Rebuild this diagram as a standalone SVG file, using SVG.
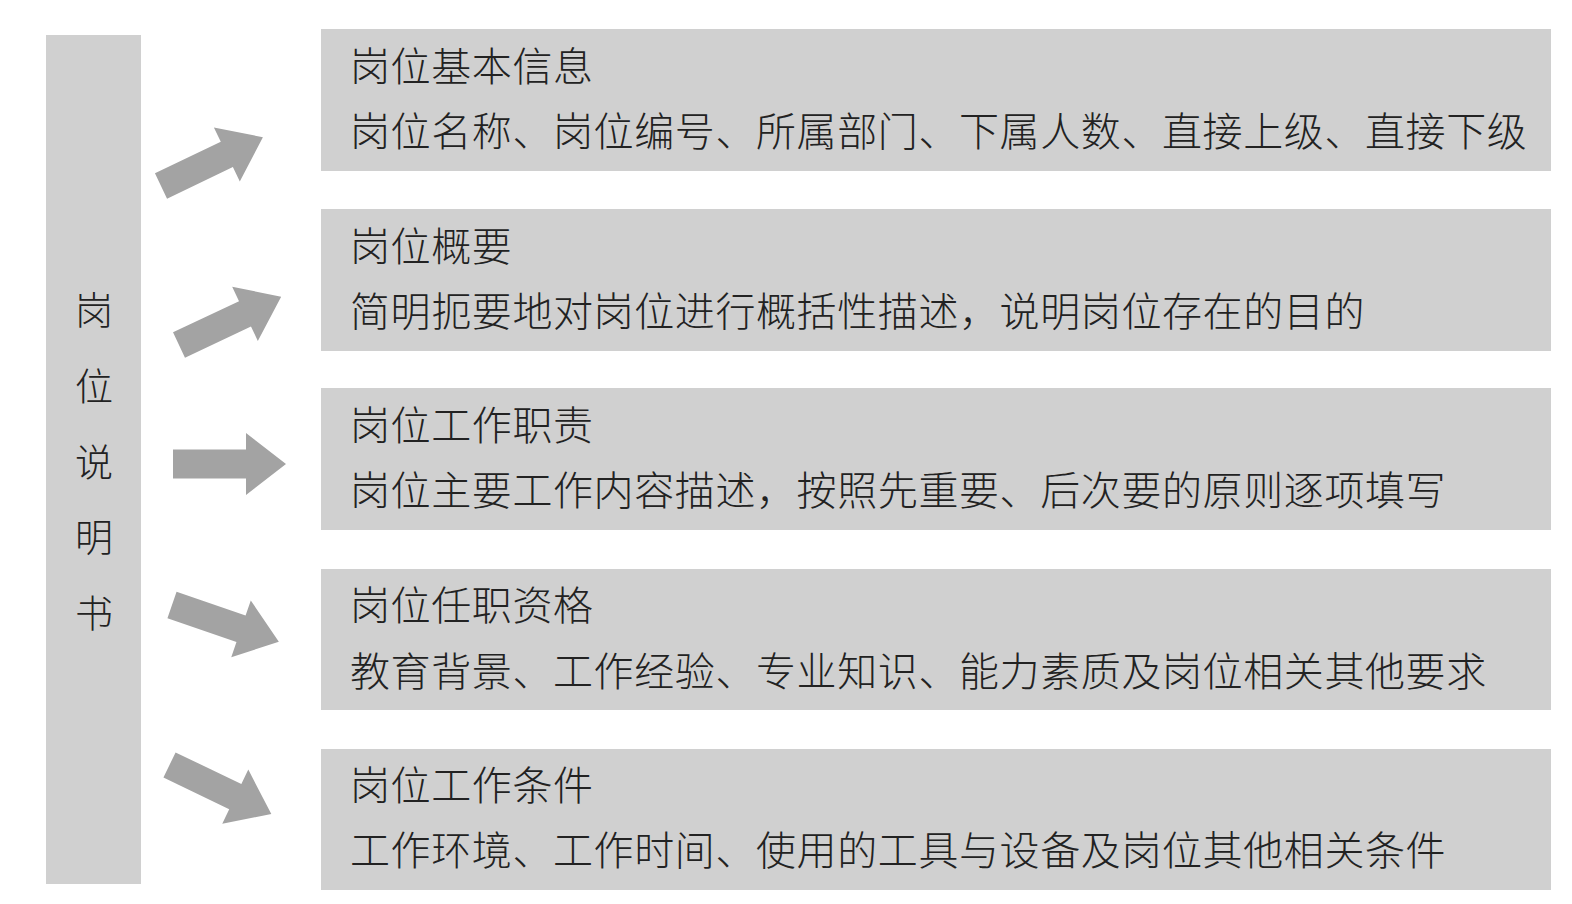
<svg xmlns="http://www.w3.org/2000/svg" width="1572" height="904" viewBox="0 0 1572 904">
<style>
.bg{fill:#ffffff}
.box{fill:#d0d0d0}
.arrow{fill:#a3a3a3}
.t{font-family:"Noto Sans CJK SC","Noto Sans CJK JP",sans-serif;font-size:40px;font-weight:300;fill:#222222;letter-spacing:0.6px}
.v{font-family:"Noto Sans CJK SC","Noto Sans CJK JP",sans-serif;font-size:38px;font-weight:300;fill:#222222;text-anchor:middle}
</style>
<defs>
<path id="arr" d="M0,-14 L73,-14 L73,-30 L113,0 L73,30 L73,14 L0,14 Z"/>
</defs>
<rect class="bg" x="0" y="0" width="1572" height="904"/>
<g id="root">
<rect class="box" x="46" y="35" width="95" height="849"/>
<text class="v" x="94" y="324">岗</text>
<text class="v" x="94" y="400">位</text>
<text class="v" x="94" y="476">说</text>
<text class="v" x="94" y="551">明</text>
<text class="v" x="94" y="627">书</text>
</g>
<g id="connectors">
<use href="#arr" class="arrow" transform="translate(161,186) rotate(-25.6)"/>
<use href="#arr" class="arrow" transform="translate(179,345) rotate(-25.3)"/>
<use href="#arr" class="arrow" transform="translate(173,464) scale(1,1.03)"/>
<use href="#arr" class="arrow" transform="translate(172,605) rotate(19)"/>
<use href="#arr" class="arrow" transform="translate(169.5,765) rotate(25.7)"/>
</g>
<g id="n1">
<rect class="box" x="321" y="29" width="1230" height="142"/>
<text class="t" x="350" y="81">岗位基本信息</text>
<text class="t" x="350" y="146">岗位名称、岗位编号、所属部门、下属人数、直接上级、直接下级</text>
</g>
<g id="n2">
<rect class="box" x="321" y="209" width="1230" height="142"/>
<text class="t" x="350" y="261">岗位概要</text>
<text class="t" x="350" y="326">简明扼要地对岗位进行概括性描述，说明岗位存在的目的</text>
</g>
<g id="n3">
<rect class="box" x="321" y="388" width="1230" height="142"/>
<text class="t" x="350" y="440">岗位工作职责</text>
<text class="t" x="350" y="505">岗位主要工作内容描述，按照先重要、后次要的原则逐项填写</text>
</g>
<g id="n4">
<rect class="box" x="321" y="569" width="1230" height="141"/>
<text class="t" x="350" y="620">岗位任职资格</text>
<text class="t" x="350" y="686">教育背景、工作经验、专业知识、能力素质及岗位相关其他要求</text>
</g>
<g id="n5">
<rect class="box" x="321" y="749" width="1230" height="141"/>
<text class="t" x="350" y="800">岗位工作条件</text>
<text class="t" x="350" y="865">工作环境、工作时间、使用的工具与设备及岗位其他相关条件</text>
</g>
</svg>
